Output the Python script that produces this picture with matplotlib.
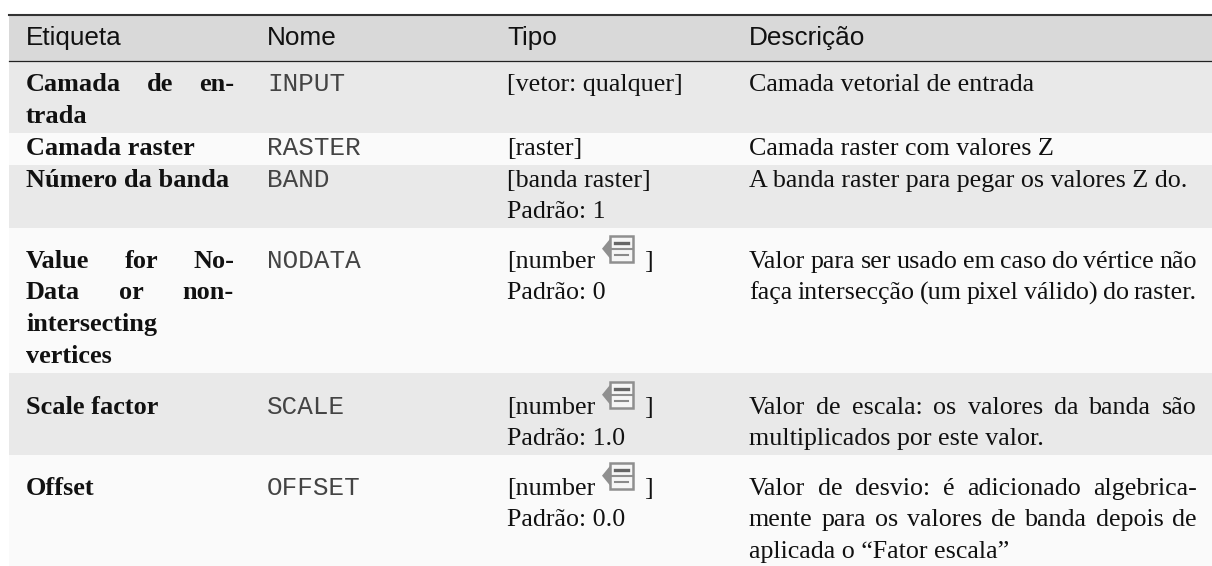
import matplotlib
matplotlib.use('Agg')
import matplotlib.pyplot as plt
from matplotlib.patches import Rectangle, Polygon

W, H = 1212, 566

headers = ['Etiqueta', 'Nome', 'Tipo', 'Descrição']
nomes = ['INPUT', 'RASTER', 'BAND', 'NODATA', 'SCALE', 'OFFSET']
etiquetas = [
    [('Camada de en-', True), ('trada', False)],
    [('Camada raster', False)],
    [('Número da banda', False)],
    [('Value for No-', True), ('Data or non-', True), ('intersecting', False), ('vertices', False)],
    [('Scale factor', False)],
    [('Offset', False)],
]
tipos = [
    ['[vetor: qualquer]'],
    ['[raster]'],
    ['[banda raster]', 'Padrão: 1'],
    ['[number', 'Padrão: 0'],
    ['[number', 'Padrão: 1.0'],
    ['[number', 'Padrão: 0.0'],
]
descricoes = [
    [('Camada vetorial de entrada', False)],
    [('Camada raster com valores Z', False)],
    [('A banda raster para pegar os valores Z do.', False)],
    [('Valor para ser usado em caso do vértice não', True), ('faça intersecção (um pixel válido) do raster.', True)],
    [('Valor de escala: os valores da banda são', True), ('multiplicados por este valor.', False)],
    [('Valor de desvio: é adicionado algebrica-', True), ('mente para os valores de banda depois de', True), ('aplicada o “Fator escala”', False)],
]

# limites das linhas em pixels
row_tops = [61, 133, 165, 228, 373, 455, 566]
row_colors = ['#e9e9e9', '#fafafa', '#e9e9e9', '#fafafa', '#e9e9e9', '#fafafa']
baselines = [91, 154.7, 186.7, 267.7, 413.7, 494.7]
line_h = 31.7
col_x = [26, 267, 507, 749]
col_right = [234, 0, 0, 1197]

SERIF = 'Liberation Serif'
FS = 18.7

fig = plt.figure(figsize=(W / 100, H / 100), dpi=100)
ax = fig.add_axes([0, 0, 1, 1])
ax.set_xlim(0, W)
ax.set_ylim(H, 0)
ax.axis('off')


def put(x, y, s, color='#111111', **kw):
    return ax.text(x, y, s, va='baseline', ha='left', color=color, **kw)


def justified(x0, x1, y, s, just, **kw):
    if not just:
        put(x0, y, s, **kw)
        return
    r = fig.canvas.get_renderer()
    palavras = s.split(' ')
    arts = [put(x0, y, p, **kw) for p in palavras]
    larg = [a.get_window_extent(r).width for a in arts]
    gap = (x1 - x0 - sum(larg)) / (len(palavras) - 1)
    x = x0
    for a, l in zip(arts, larg):
        a.set_x(x)
        x += l + gap


def icon(x, base):
    # icone do parametro dinamico
    top = base - 32
    ax.add_patch(Polygon([(x, top + 13), (x + 9, top + 2), (x + 9, top + 24)], fc='#8f8f8f', ec='none'))
    ax.add_patch(Rectangle((x + 8, top), 23, 26, fc='#f6f6f6', ec='#8f8f8f', lw=1.8))
    ax.plot([x + 8, x + 31], [top + 13, top + 13], color='#8f8f8f', lw=1.5)
    ax.plot([x + 13, x + 26], [top + 7, top + 7], color='#666666', lw=2.4)
    ax.plot([x + 13, x + 26], [top + 19, top + 19], color='#8a8a8a', lw=1.5)


# fundo
ax.add_patch(Rectangle((9, 15), W - 9, row_tops[0] - 15, fc='#d9d9d9', ec='none'))
for i, c in enumerate(row_colors):
    ax.add_patch(Rectangle((9, row_tops[i]), W - 9, row_tops[i + 1] - row_tops[i], fc=c, ec='none'))
ax.plot([9, W], [14.5, 14.5], color='#333333', lw=1.5)
ax.plot([9, W], [60.5, 60.5], color='#222222', lw=0.9)

# cabecalho
for x, h in zip(col_x, headers):
    put(x, 45, h, family='Liberation Sans', fontsize=18.8)

for i in range(6):
    b = baselines[i]
    for j, (s, just) in enumerate(etiquetas[i]):
        justified(col_x[0], col_right[0], b + j * line_h, s, just, family=SERIF, fontsize=18.9, fontweight='bold')
    put(col_x[1], b, nomes[i], color='#444444', family='Liberation Mono', fontsize=18.7)
    for j, s in enumerate(tipos[i]):
        put(col_x[2], b + j * line_h, s, family=SERIF, fontsize=FS)
    if tipos[i][0] == '[number':
        icon(602, b)
        put(644, b, ']', family=SERIF, fontsize=FS)
    for j, (s, just) in enumerate(descricoes[i]):
        justified(col_x[3], col_right[3], b + j * line_h, s, just, family=SERIF, fontsize=FS)

fig.savefig('out.png', dpi=100)
